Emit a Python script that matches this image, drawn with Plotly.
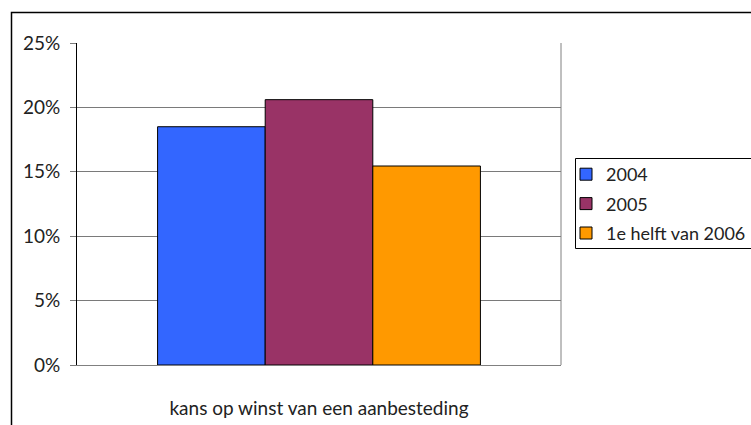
import plotly.graph_objects as go

categories = ["kans op winst van een aanbesteding"]
series_names = ["2004", "2005", "1e helft van 2006"]
values_2004 = [18.5]
values_2005 = [20.6]
values_2006 = [15.45]
series_values = [values_2004, values_2005, values_2006]
colors = ["#3366FF", "#993366", "#FF9900"]
y_ticks = [0, 5, 10, 15, 20, 25]
y_tick_labels = ["0%", "5%", "10%", "15%", "20%", "25%"]

W, H = 751, 425
L, R, T, B = 77, 561, 43, 365
pw, ph = R - L, B - T

def px_x(x):
    return (x - L) / pw

def px_y(y):
    return (B - y) / ph

fig = go.Figure()
for i, (name, vals, col) in enumerate(zip(series_names, series_values, colors)):
    fig.add_trace(go.Bar(
        x=categories, y=vals, name=name,
        marker=dict(color=col, line=dict(color="black", width=1)),
        legendgroup=f"g{i}",
    ))

font_family = "Lato, 'Open Sans', sans-serif"

fig.update_layout(
    width=W, height=H,
    margin=dict(l=L, r=W - R, t=T, b=H - B, autoexpand=False),
    paper_bgcolor="white", plot_bgcolor="white",
    barmode="group", bargap=0.333, bargroupgap=0,
    font=dict(family=font_family, size=18, color="#222"),
    showlegend=True,
    legend=dict(
        x=px_x(566), y=px_y(156),
        xanchor="left", yanchor="top",
        borderwidth=0,
        font=dict(size=18, family=font_family, color="#222"),
        tracegroupgap=3, itemwidth=30,
        bgcolor="rgba(0,0,0,0)",
    ),
    xaxis=dict(
        showline=True, linecolor="#808080", linewidth=1,
        showgrid=False, ticks="outside", ticklen=26,
        tickcolor="rgba(0,0,0,0)",
        tickfont=dict(size=19),
        range=[-0.5, 0.5],
    ),
    yaxis=dict(
        range=[0, 25], tickvals=y_ticks, ticktext=y_tick_labels,
        showgrid=True, gridcolor="#7a7a7a", gridwidth=1,
        showline=True, linecolor="black", linewidth=1,
        ticks="outside", ticklen=6, tickcolor="#7a7a7a",
        ticklabelstandoff=6,
        zeroline=False, tickfont=dict(size=19),
    ),
    shapes=[
        dict(type="line", xref="paper", yref="paper", x0=1, x1=1, y0=0, y1=1,
             line=dict(color="#808080", width=1)),
        dict(type="rect", xref="paper", yref="paper",
             x0=px_x(11.5), x1=px_x(800),
             y0=px_y(500), y1=px_y(12.5),
             line=dict(color="black", width=1.5), layer="below"),
        dict(type="rect", xref="paper", yref="paper",
             x0=px_x(575.5), x1=px_x(800),
             y0=px_y(248.5), y1=px_y(158.5),
             line=dict(color="black", width=1), fillcolor="white", layer="below"),
    ],
)

fig.write_html(
    "out.html",
    config={"displayModeBar": False},
    post_script="document.body.style.margin='0';document.body.style.overflow='hidden';",
)
